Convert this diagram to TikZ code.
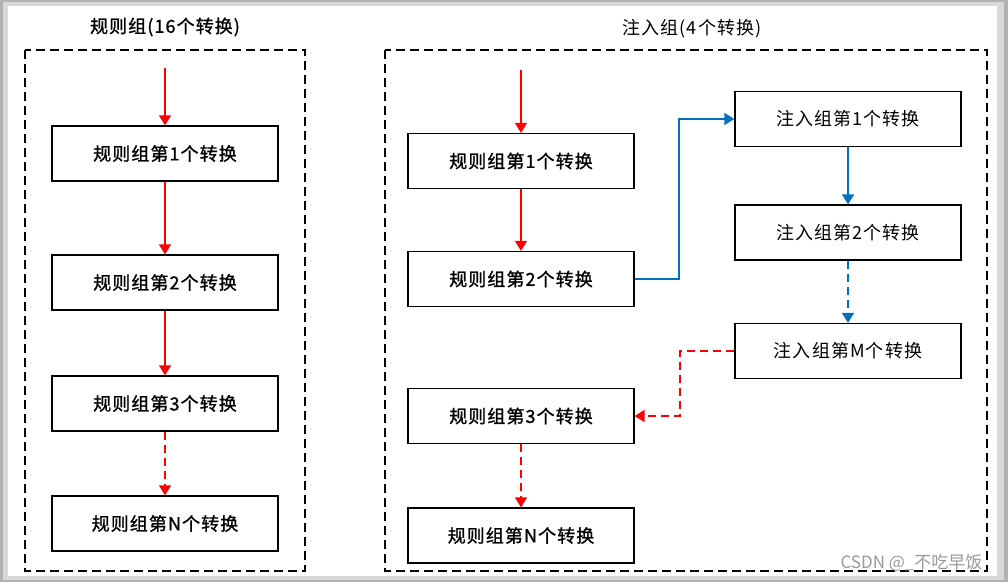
\documentclass[tikz,border=0pt]{standalone}
\usepackage{fontspec}
\setmainfont{Liberation Sans}
\newfontfamily\cjk[LetterSpace=6]{Noto Sans CJK SC}
\newfontfamily\cjkb[LetterSpace=6,FakeBold=1.2]{Noto Sans CJK SC}
\newfontfamily\cjkw{Noto Sans CJK SC}
\usetikzlibrary{arrows.meta}
\definecolor{myblue}{RGB}{0,112,192}
\begin{document}
\begin{tikzpicture}[x=1pt,y=-1pt,
  stepbox/.style={draw,line width=1.3pt,minimum width=226pt,minimum height=55pt,inner sep=0pt,font=\cjkb\fontsize{18}{18}\selectfont},
  injbox/.style={stepbox,font=\cjk\fontsize{18}{18}\selectfont},
  grp/.style={draw,dash pattern=on 9pt off 5pt,line width=1.3pt},
  ttl/.style={font=\cjkb\fontsize{18}{18}\selectfont},
  ttlb/.style={font=\cjk\fontsize{18}{18}\selectfont},
  redarr/.style={draw=red,line width=1.5pt,-{Triangle[width=12pt,length=10pt]}},
  bluearr/.style={draw=myblue,line width=1.5pt,-{Triangle[width=12pt,length=10pt]}},
  dsh/.style={dash pattern=on 8pt off 5pt}]
\useasboundingbox (0,0) rectangle (1008,582);
\fill[black!30] (0,0) rectangle (1008,582);
\fill[black!15] (3,2) rectangle (1004,580);
\fill[white] (8,6) rectangle (997,576);
% groups
\draw[grp] (25,50) rectangle (305,571);
\draw[grp] (385,50) rectangle (987,571);
\node[ttl] (t1) at (165,27) {规则组(16个转换)};
\node[ttlb] (t2) at (692,29) {注入组(4个转换)};
% left column
\coordinate (ls) at (165,68);
\node[stepbox] (l1) at (165,153.5) {规则组第1个转换};
\node[stepbox] (l2) at (165,282.5) {规则组第2个转换};
\node[stepbox] (l3) at (165,403.5) {规则组第3个转换};
\node[stepbox] (l4) at (165,523.5) {规则组第N个转换};
\draw[redarr] (ls) -- (l1.north);
\draw[redarr] (l1) -- (l2);
\draw[redarr] (l2) -- (l3);
\draw[redarr,dsh] (l3) -- (l4);
% right part
\coordinate (rs) at (521,70);
\node[stepbox] (r1) at (521,161) {规则组第1个转换};
\node[stepbox] (r2) at (521,279) {规则组第2个转换};
\node[stepbox] (r3) at (521,416) {规则组第3个转换};
\node[stepbox] (r4) at (521,535.5) {规则组第N个转换};
\node[injbox] (i1) at (848,119) {注入组第1个转换};
\node[injbox] (i2) at (848,232.5) {注入组第2个转换};
\node[injbox] (im) at (848,351) {注入组第M个转换};
\draw[redarr] (rs) -- (rs |- r1.north);
\draw[redarr] (r1) -- (r2);
\draw[bluearr] (r2.east) -- (679,279) |- (i1.west);
\draw[bluearr] (i1) -- (i2);
\draw[bluearr,dsh] (i2) -- (im);
\draw[redarr,dsh] (im.west) -- (680,351) |- (r3.east);
\draw[redarr,dsh] (r3) -- (r4);
\node[text=black!40,font=\cjkw\fontsize{17}{17}\selectfont,anchor=east] (wm) at (986,563) {CSDN @\_不吃早饭};
\end{tikzpicture}
\end{document}
